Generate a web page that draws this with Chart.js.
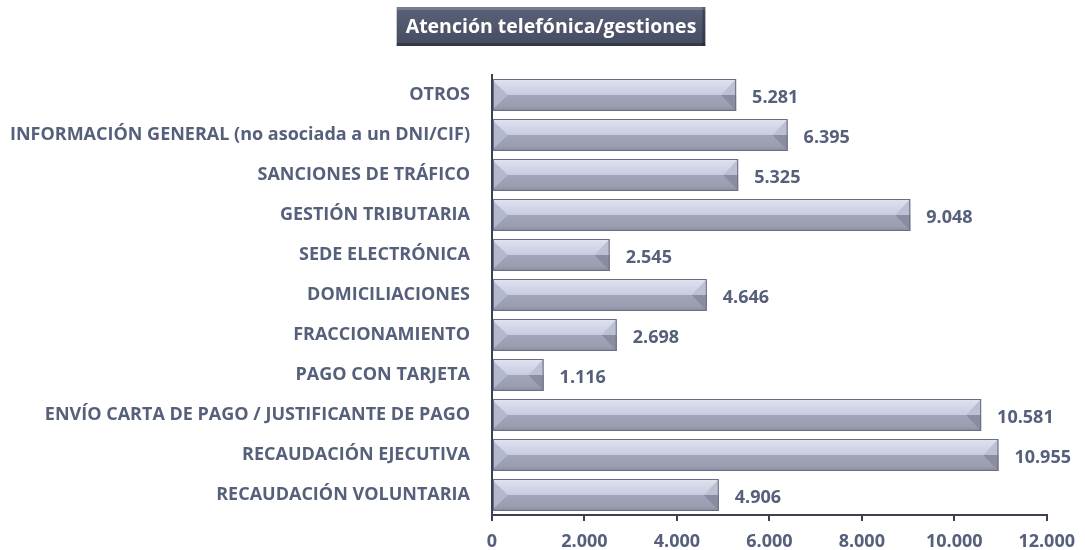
<!DOCTYPE html>
<html>
<head>
<meta charset="utf-8">
<script src="https://cdn.jsdelivr.net/npm/chart.js@4"></script>
<style>
  html, body { margin: 0; padding: 0; background: #fff; }
  #wrap { width: 1085px; height: 550px; position: relative; }
</style>
</head>
<body>
<div id="wrap"><canvas id="myChart"></canvas></div>
<script>
let chartTitle = "Atención telefónica/gestiones";
let categories = [
  "OTROS",
  "INFORMACIÓN GENERAL (no asociada a un DNI/CIF)",
  "SANCIONES DE TRÁFICO",
  "GESTIÓN TRIBUTARIA",
  "SEDE ELECTRÓNICA",
  "DOMICILIACIONES",
  "FRACCIONAMIENTO",
  "PAGO CON TARJETA",
  "ENVÍO CARTA DE PAGO / JUSTIFICANTE DE PAGO",
  "RECAUDACIÓN EJECUTIVA",
  "RECAUDACIÓN VOLUNTARIA"
];
let callValues = [5281, 6395, 5325, 9048, 2545, 4646, 2698, 1116, 10581, 10955, 4906];
let xTicks = [0, 2000, 4000, 6000, 8000, 10000, 12000];

const textColor = "#56607b";
const axisColor = "#3c4152";
const fontName = "'Open Sans', Lato, sans-serif";

function fmt(n) {
  return n.toString().replace(/\B(?=(\d{3})+(?!\d))/g, ".");
}

// title box drawn on top of the canvas
const titleBox = {
  id: "titleBox",
  afterDraw(chart) {
    const ctx = chart.ctx;
    ctx.save();
    ctx.font = "bold 19.5px " + fontName;
    const w = ctx.measureText(chartTitle).width + 18;
    const cx = 551, top = 7, h = 39;
    const x0 = cx - w / 2;
    const g = ctx.createLinearGradient(0, top, 0, top + h);
    g.addColorStop(0, "#5b6177");
    g.addColorStop(1, "#454b60");
    ctx.fillStyle = g;
    ctx.fillRect(x0, top, w, h);
    // bevel edges
    ctx.fillStyle = "rgba(255,255,255,0.18)";
    ctx.fillRect(x0, top, w, 3);
    ctx.fillStyle = "rgba(0,0,0,0.25)";
    ctx.fillRect(x0, top + h - 3, w, 3);
    ctx.fillRect(x0 + w - 3, top, 3, h);
    ctx.fillStyle = "#ffffff";
    ctx.textAlign = "center";
    ctx.textBaseline = "middle";
    ctx.fillText(chartTitle, cx, top + h / 2 + 1);
    ctx.restore();
  }
};

// bevel shading, border and value labels on top of each bar
const barExtras = {
  id: "barExtras",
  afterDatasetsDraw(chart) {
    const ctx = chart.ctx;
    const meta = chart.getDatasetMeta(0);
    ctx.save();
    meta.data.forEach((bar, i) => {
      const x0 = bar.base, x1 = bar.x;
      const top = bar.y - bar.height / 2, bot = bar.y + bar.height / 2, mid = bar.y;
      // gradient body
      const g = ctx.createLinearGradient(0, top, 0, bot);
      g.addColorStop(0, "#e3e6f1");
      g.addColorStop(0.1, "#dadeec");
      g.addColorStop(0.49, "#c8cce0");
      g.addColorStop(0.51, "#a2a5b8");
      g.addColorStop(0.88, "#9a9db0");
      g.addColorStop(1, "#85889b");
      ctx.fillStyle = g;
      ctx.fillRect(x0, top, x1 - x0, bot - top);
      const bw = Math.min(15, (x1 - x0) / 2);
      // left bevel
      ctx.fillStyle = "#b4b8cc";
      ctx.beginPath();
      ctx.moveTo(x0, top + 2); ctx.lineTo(x0 + bw, mid); ctx.lineTo(x0, bot - 2); ctx.closePath();
      ctx.fill();
      // right bevel
      ctx.fillStyle = "#bcc0d3";
      ctx.beginPath();
      ctx.moveTo(x1, top); ctx.lineTo(x1 - bw, mid); ctx.lineTo(x1, mid); ctx.closePath();
      ctx.fill();
      ctx.fillStyle = "#8a8d9f";
      ctx.beginPath();
      ctx.moveTo(x1, mid); ctx.lineTo(x1 - bw, mid); ctx.lineTo(x1, bot); ctx.closePath();
      ctx.fill();
      // border
      ctx.strokeStyle = "#6b6e82";
      ctx.lineWidth = 1;
      ctx.strokeRect(x0 + 0.5, top + 0.5, x1 - x0 - 1, bot - top - 1);
      // value label
      ctx.fillStyle = textColor;
      ctx.font = "bold 18px " + fontName;
      ctx.textAlign = "left";
      ctx.textBaseline = "middle";
      ctx.fillText(fmt(callValues[i]), x1 + 16, mid + 3);
    });
    ctx.restore();
  }
};

new Chart("myChart", {
  type: "bar",
  data: {
    labels: categories,
    datasets: [{
      data: callValues,
      backgroundColor: "#b8bccd",
      borderWidth: 0,
      categoryPercentage: 1,
      barPercentage: 0.8
    }]
  },
  options: {
    indexAxis: "y",
    responsive: true,
    maintainAspectRatio: false,
    animation: false,
    layout: { padding: { top: 75, right: 37, left: 0, bottom: 0 } },
    plugins: {
      legend: { display: false },
      tooltip: { enabled: false }
    },
    scales: {
      x: {
        min: 0,
        max: 12000,
        afterBuildTicks(scale) { scale.ticks = xTicks.map(v => ({ value: v })); },
        afterFit(scale) { scale.height = 35; },
        grid: { display: true, drawOnChartArea: false, drawTicks: true, tickLength: 6, color: axisColor, lineWidth: 2 },
        border: { display: true, color: axisColor, width: 2 },
        ticks: {
          color: textColor,
          padding: 10,
          maxRotation: 0,
          font: { family: fontName, size: 18, weight: "bold" },
          callback: v => fmt(v)
        }
      },
      y: {
        afterFit(scale) { scale.width = 492; },
        grid: { display: false, drawTicks: false },
        border: { display: true, color: axisColor, width: 2 },
        ticks: {
          color: textColor,
          padding: 22,
          font: { family: fontName, size: 18, weight: "bold" }
        }
      }
    }
  },
  plugins: [titleBox, barExtras]
});
</script>
</body>
</html>
